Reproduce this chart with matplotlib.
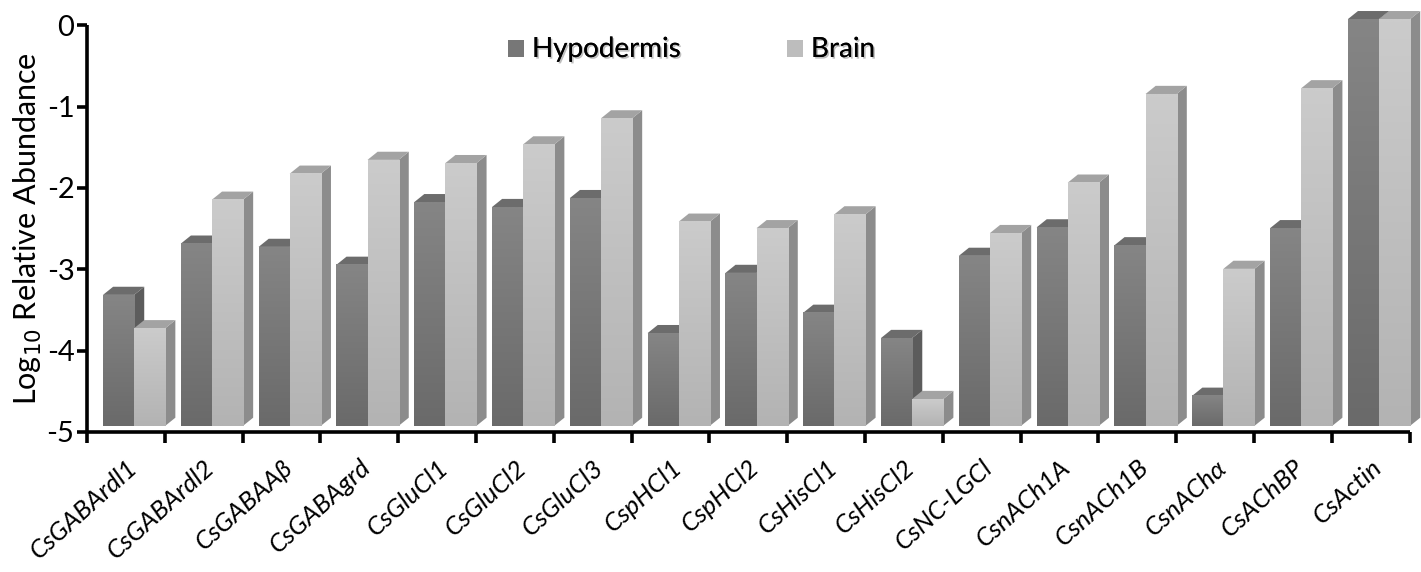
import numpy as np
import matplotlib.pyplot as plt
from matplotlib.patches import Polygon, Rectangle
import matplotlib.patheffects as pe

plt.rcParams['font.family'] = ['Lato', 'DejaVu Sans']

# data (log10 relative abundance)
genes = ['CsGABArdl1', 'CsGABArdl2', 'CsGABAAβ', 'CsGABAgrd', 'CsGluCl1',
         'CsGluCl2', 'CsGluCl3', 'CspHCl1', 'CspHCl2', 'CsHisCl1', 'CsHisCl2',
         'CsNC-LGCl', 'CsnACh1A', 'CsnACh1B', 'CsnAChα', 'CsAChBP', 'CsActin']
hypodermis = [-3.39, -2.76, -2.80, -3.02, -2.25, -2.31, -2.20, -3.86, -3.12,
              -3.61, -3.92, -2.91, -2.56, -2.78, -4.63, -2.57, 0.0]
brain = [-3.80, -2.22, -1.90, -1.73, -1.77, -1.54, -1.22, -2.49, -2.57,
         -2.40, -4.67, -2.63, -2.01, -0.92, -3.07, -0.85, 0.0]

# bar styling
bw = 0.40        # front face width
dx = 0.13        # depth, x
dy = 0.10        # depth, y
lift = 0.074     # floor of the 3d bars above the axis
floor = -5

series = [
    # values, x offset, front top, front bottom, side, top
    (hypodermis, -0.294, '#858585', '#6a6a6a', '#5c5c5c', '#6c6c6c'),
    (brain, 0.106, '#cbcbcb', '#b3b3b3', '#8c8c8c', '#a3a3a3'),
]

fig = plt.figure(figsize=(14.21, 5.72), dpi=100)
ax = fig.add_axes([0.0612, 0.245, 0.9308, 0.711])
ax.set_xlim(-0.5, len(genes) - 0.5)
ax.set_ylim(-5, 0)

def hex2rgb(h):
    h = h.lstrip('#')
    return np.array([int(h[i:i + 2], 16) / 255 for i in (0, 2, 4)])

for vals, off, ctop, cbot, cside, ctopface in series:
    grad = np.linspace(hex2rgb(ctop), hex2rgb(cbot), 64).reshape(64, 1, 3)
    for i, v in enumerate(vals):
        x0 = i + off
        y0 = floor + lift
        y1 = v + lift
        # front face with vertical gradient
        im = ax.imshow(grad, extent=[x0, x0 + bw, y0, y1], aspect='auto',
                       origin='upper', zorder=3, clip_on=False,
                       interpolation='bilinear')
        rect = Rectangle((x0, y0), bw, y1 - y0, transform=ax.transData,
                         facecolor='none', edgecolor='none')
        ax.add_patch(rect)
        im.set_clip_path(rect)
        # side face
        ax.add_patch(Polygon([[x0 + bw, y0], [x0 + bw + dx, y0 + dy],
                              [x0 + bw + dx, y1 + dy], [x0 + bw, y1]],
                             closed=True, facecolor=cside, edgecolor='none',
                             zorder=2, clip_on=False))
        # top face
        ax.add_patch(Polygon([[x0, y1], [x0 + dx, y1 + dy],
                              [x0 + bw + dx, y1 + dy], [x0 + bw, y1]],
                             closed=True, facecolor=ctopface, edgecolor='none',
                             zorder=2, clip_on=False))

# axes styling
for s in ['top', 'right']:
    ax.spines[s].set_visible(False)
for s in ['left', 'bottom']:
    ax.spines[s].set_linewidth(2.6)
    ax.spines[s].set_capstyle('butt')

ax.set_yticks(np.arange(-5, 1, 1))
ax.set_yticklabels([str(t) for t in range(-5, 1)])
ax.tick_params(axis='y', length=7, width=2.6, labelsize=21, pad=2)
ax.set_xticks(np.arange(-0.5, len(genes), 1), minor=False)
ax.set_xticklabels([])
ax.tick_params(axis='x', length=8, width=2.6, direction='out')
ax.set_xticks(np.arange(len(genes)), minor=True)
ax.set_xticklabels(genes, minor=True, rotation=42, ha='right',
                   rotation_mode='anchor', fontsize=18.5, style='italic')
ax.tick_params(axis='x', which='minor', length=0, pad=17)

ax.set_ylabel('Log$_{10}$ Relative Abundance', fontsize=22, labelpad=2)

# legend
shadow = [pe.withSimplePatchShadow(offset=(1.2, -1.2), alpha=0.25, shadow_rgbFace='k'),
          pe.Normal()]
fig.patches.append(Rectangle((508 / 1421, 1 - 57 / 572), 16 / 1421, 17 / 572,
                             transform=fig.transFigure, facecolor='#777777',
                             edgecolor='none'))
fig.patches.append(Rectangle((787 / 1421, 1 - 57 / 572), 16 / 1421, 17 / 572,
                             transform=fig.transFigure, facecolor='#bdbdbd',
                             edgecolor='none'))
fig.text(532 / 1421, 1 - 49 / 572, 'Hypodermis', fontsize=20, va='center',
         ha='left', path_effects=shadow)
fig.text(811 / 1421, 1 - 49 / 572, 'Brain', fontsize=20, va='center',
         ha='left', path_effects=shadow)

fig.savefig('out.png', dpi=100)
